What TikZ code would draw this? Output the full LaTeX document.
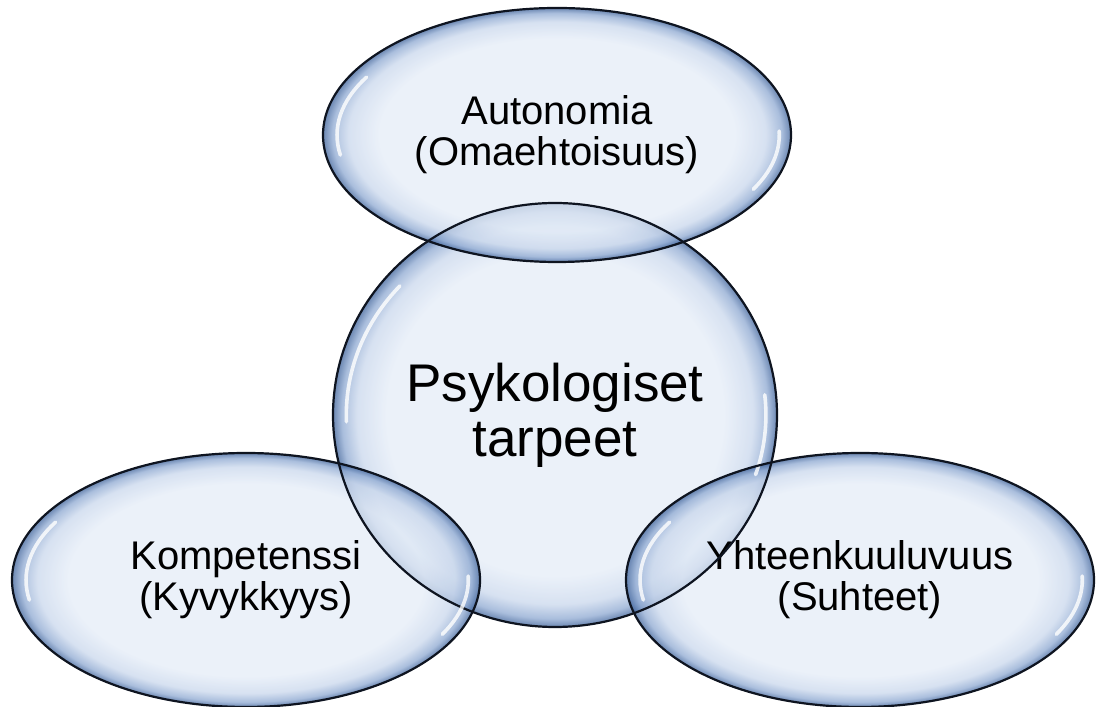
\documentclass[tikz,border=0pt]{standalone}
\usepackage{fontspec}
\setmainfont{Liberation Sans}
\usepackage{xcolor}
\usepackage{tikz}
\usetikzlibrary{shapes.geometric}
\usetikzlibrary{positioning}
\definecolor{bubfill}{HTML}{E4ECF7}
\definecolor{bubpale}{HTML}{C9D7EC}
\definecolor{bubmid}{HTML}{8DA8D1}
\definecolor{bubedge}{HTML}{3A5F98}
\definecolor{bubline}{HTML}{0E1420}
\pgfdeclareradialshading{bubshade}{\pgfpoint{0bp}{0bp}}{color(0bp)=(bubfill); color(19bp)=(bubfill); color(22.3bp)=(bubpale); color(24bp)=(bubmid); color(25bp)=(bubedge); color(50bp)=(bubedge)}
\tikzstyle{needvertex}=[ellipse,shading=bubshade,fill opacity=0.75,text opacity=1,inner sep=0pt,align=center,font=\fontsize{20}{20.5}\selectfont]
\tikzstyle{corevertex}=[needvertex,font=\fontsize{26.5}{27.5}\selectfont]
\tikzstyle{rim}=[draw=bubline,line width=1.1pt]
\tikzstyle{gloss}=[draw=white,line width=1.8pt,opacity=0.8,line cap=round]

\begin{document}
\begin{tikzpicture}[x=0.5pt,y=0.5pt]

  \def\u{0.5pt};
  \useasboundingbox (0,0) rectangle (1096,706);

  \node[corevertex,minimum width=444*\u,minimum height=424*\u] (core) at (555,291) {Psykologiset\\tarpeet};

   \foreach \x/\y/\name/\label in {557/571/aut/{Autonomia\\(Omaehtoisuus)}, 246/126/komp/{Kompetenssi\\(Kyvykkyys)}, 860/126/yht/{Yhteenkuuluvuus\\(Suhteet)}}
          \node[needvertex,minimum width=468*\u,minimum height=254*\u] (\name) at (\x,\y) {\label};

  % reunat ja kiiltoraidat
  \foreach \name/\rx/\ry/\a/\b/\c/\d in {core/222/212/138/182/-18/6, aut/234/127/150/190/-28/2, komp/234/127/150/190/-28/2, yht/234/127/150/190/-28/2}
  {
         \path[rim] (\name.center) ellipse [x radius={\rx*\u},y radius={\ry*\u}];
         \path[gloss] ([shift={(\a:{0.94*\rx*\u} and {0.91*\ry*\u})}]\name.center) arc[start angle=\a,end angle=\b,x radius={0.94*\rx*\u},y radius={0.91*\ry*\u}];
         \path[gloss] ([shift={(\c:{0.95*\rx*\u} and {0.91*\ry*\u})}]\name.center) arc[start angle=\c,end angle=\d,x radius={0.95*\rx*\u},y radius={0.91*\ry*\u}];
  }

   \end{tikzpicture}
\end{document}
